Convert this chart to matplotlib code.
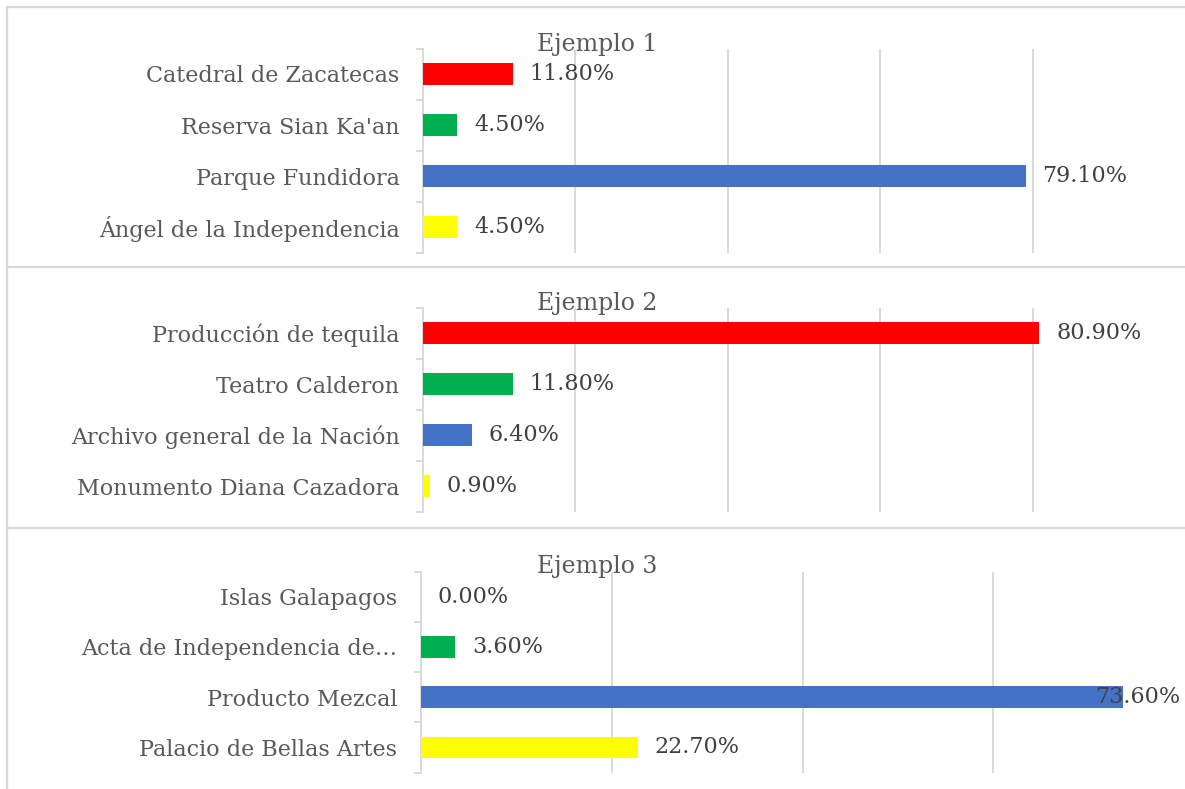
# Tres ejemplos de barras horizontales (estilo Excel)

import numpy as np
import matplotlib.pyplot as plt

# Datos de cada ejemplo
titulos = ['Ejemplo 1', 'Ejemplo 2', 'Ejemplo 3']
lugares_1 = ['Catedral de Zacatecas', "Reserva Sian Ka'an",
             'Parque Fundidora', 'Ángel de la Independencia']
valores_1 = [11.8, 4.5, 79.1, 4.5]
lugares_2 = ['Producción de tequila', 'Teatro Calderon',
             'Archivo general de la Nación', 'Monumento Diana Cazadora']
valores_2 = [80.9, 11.8, 6.4, 0.9]
lugares_3 = ['Islas Galapagos', 'Acta de Independencia de…',
             'Producto Mezcal', 'Palacio de Bellas Artes']
valores_3 = [0.0, 3.6, 73.6, 22.7]
colores = ['#FF0000', '#00B050', '#4472C4', '#FFFF00']

W, H = 1185, 789
gris = '#D9D9D9'
texto = '#595959'
plt.rcParams['font.family'] = ['DejaVu Serif']

fig = plt.figure(figsize=(W / 100, H / 100), dpi=100)

# Marcos de cada panel (en pixeles)
def px_axes(x0, x1, y0, y1):
    return fig.add_axes([x0 / W, 1 - y1 / H, (x1 - x0) / W, (y1 - y0) / H])

for y in [7, 267, 528]:
    fig.add_artist(plt.Line2D([7 / W, 1], [1 - y / H, 1 - y / H],
                              color=gris, lw=1.6, transform=fig.transFigure))
fig.add_artist(plt.Line2D([7 / W, 7 / W], [0, 1 - 7 / H],
                          color=gris, lw=1.6, transform=fig.transFigure))

paneles = [
    (lugares_1, valores_1, (423, 1185, 48.5, 252.5), 100, 44),
    (lugares_2, valores_2, (423, 1185, 307.5, 511.5), 100, 303),
    (lugares_3, valores_3, (421, 1184, 571.5, 772.5), 80, 566),
]

for k, (lugares, valores, caja, xmax, ytit) in enumerate(paneles):
    ax = px_axes(*caja)
    y = np.arange(len(lugares))
    ax.barh(y, valores, height=0.43, color=colores, zorder=3)
    ax.set_xlim(0, xmax)
    ax.set_ylim(len(lugares) - 0.5, -0.5)

    # Rejilla vertical
    for g in range(20, xmax, 20):
        ax.axvline(g, color=gris, lw=1.4, zorder=1)

    for s in ['top', 'right', 'bottom']:
        ax.spines[s].set_visible(False)
    ax.spines['left'].set_color(gris)
    ax.spines['left'].set_linewidth(1.4)
    ax.set_xticks([])
    ax.set_yticks(y)
    ax.set_yticklabels(lugares, fontsize=16, color=texto)
    ax.tick_params(axis='y', length=0, pad=17)
    ax.set_yticks(np.arange(len(lugares) + 1) - 0.5, minor=True)
    ax.tick_params(axis='y', which='minor', length=5, color=gris, width=1.4)

    # Etiquetas de valores
    for i, v in enumerate(valores):
        etiqueta = f'{v:.2f}%'
        if v > 0.85 * xmax:
            ax.annotate(etiqueta, (xmax, i), xytext=(-3, 0),
                        textcoords='offset points', ha='right', va='center',
                        fontsize=16, color='#404040', zorder=4)
        else:
            ax.annotate(etiqueta, (v, i), xytext=(12, 0),
                        textcoords='offset points', ha='left', va='center',
                        fontsize=16, color='#404040', zorder=4)

    fig.text(597 / W, 1 - ytit / H, titulos[k], ha='center', va='center',
             fontsize=17, color=texto)

fig.savefig('out.png', dpi=100)
